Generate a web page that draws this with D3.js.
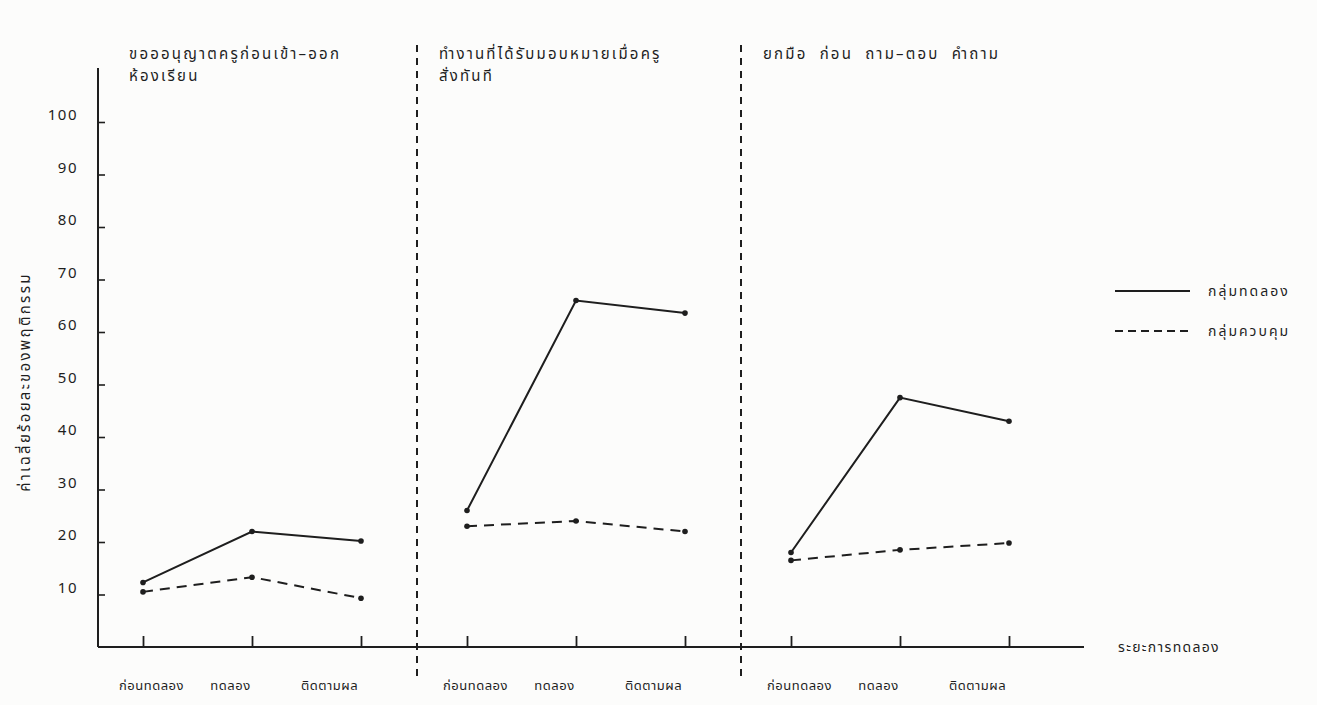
<!DOCTYPE html>
<html>
<head>
<meta charset="utf-8">
<script src="https://cdn.jsdelivr.net/npm/d3@7"></script>
<style>
  body { margin: 0; background: #fcfcfb; }
  svg text { font-family: "Noto Sans Thai", "Noto Sans", "DejaVu Sans", sans-serif; fill: #1e1e1e; }
</style>
</head>
<body>
<div id="chart"></div>
<script>
// chart data
var phases = ["ก่อนทดลอง", "ทดลอง", "ติดตามผล"];
var panelTitles = [
  ["ขอออนุญาตครูก่อนเข้า–ออก", "ห้องเรียน"],
  ["ทำงานที่ได้รับมอบหมายเมื่อครู", "สั่งทันที"],
  ["ยกมือ ก่อน ถาม–ตอบ คำถาม"]
];
var experimental = [
  [12.3, 22, 20.2],
  [26, 66, 63.6],
  [18, 47.5, 43]
];
var control = [
  [10.5, 13.3, 9.3],
  [23, 24, 22],
  [16.5, 18.5, 19.8]
];
var yTicks = [10, 20, 30, 40, 50, 60, 70, 80, 90, 100];
var seriesNames = ["กลุ่มทดลอง", "กลุ่มควบคุม"];
var yTitle = "ค่าเฉลี่ยร้อยละของพฤติกรรม";
var xTitle = "ระยะการทดลอง";

var svgWidth = 1317;
var svgHeight = 705;
var ink = "#1e1e1e";

var svg = d3.select("#chart")
  .append("svg")
  .attr("width", svgWidth)
  .attr("height", svgHeight);

// scales
var yScale = d3.scaleLinear().domain([0, 100]).range([647, 122]);
var panelX = d3.scaleBand().domain([0, 1, 2]).range([93, 1065]);
var phaseX = d3.scalePoint().domain(phases).range([50, 268]);

var axisX0 = 98;
var baseY = yScale(0);
// the typed tick labels sit a little off their ticks
var labelShift = [8, -22, -32];

// y axis
var yAxisG = svg.append("g")
  .attr("transform", `translate(${axisX0}, 0)`)
  .call(d3.axisLeft(yScale).tickValues(yTicks).tickSizeInner(-7).tickSizeOuter(0).tickPadding(20));
yAxisG.select(".domain").remove();
yAxisG.selectAll("line").attr("stroke", ink).attr("stroke-width", 1.6);
yAxisG.selectAll("text")
  .attr("font-size", 15)
  .attr("letter-spacing", 1.5)
  .attr("transform", "translate(0,-7)")
  .style("fill", ink);

svg.append("line")
  .attr("x1", axisX0).attr("x2", axisX0)
  .attr("y1", 68).attr("y2", baseY)
  .attr("stroke", ink).attr("stroke-width", 2);

// x axis line
svg.append("line")
  .attr("x1", axisX0).attr("x2", 1084)
  .attr("y1", baseY).attr("y2", baseY)
  .attr("stroke", ink).attr("stroke-width", 2);

// x ticks, one axis per panel
panelTitles.forEach(function(t, i) {
  var g = svg.append("g")
    .attr("transform", `translate(${panelX(i)}, ${baseY})`)
    .call(d3.axisBottom(phaseX).tickSizeInner(-11).tickSizeOuter(0).tickPadding(34));
  g.select(".domain").remove();
  g.selectAll("line").attr("stroke", ink).attr("stroke-width", 1.8);
  g.selectAll("text")
    .attr("font-size", 13)
    .attr("letter-spacing", 0.5)
    .attr("transform", function(d, k) { return `translate(${labelShift[k]},0)`; })
    .style("fill", ink);
});

// dashed separators between panels
[1, 2].forEach(function(i) {
  svg.append("line")
    .attr("x1", panelX(i)).attr("x2", panelX(i))
    .attr("y1", 45).attr("y2", 678)
    .attr("stroke", ink)
    .attr("stroke-width", 2)
    .attr("stroke-dasharray", "7,6");
});

// panel titles
panelTitles.forEach(function(lines, i) {
  lines.forEach(function(line, k) {
    svg.append("text")
      .attr("x", panelX(i) + (i === 0 ? 36 : 22))
      .attr("y", 59 + k * 22)
      .attr("font-size", 15)
      .attr("letter-spacing", 2.2)
      .attr("word-spacing", 6)
      .text(line);
  });
});

// series lines
var line = d3.line()
  .x(function(d, i) { return phaseX(phases[i]); })
  .y(function(d) { return yScale(d); });

function drawSeries(data, dash) {
  data.forEach(function(vals, i) {
    var g = svg.append("g").attr("transform", `translate(${panelX(i)}, 0)`);
    g.append("path")
      .datum(vals)
      .attr("d", line)
      .attr("fill", "none")
      .attr("stroke", ink)
      .attr("stroke-width", 2)
      .attr("stroke-dasharray", dash);
    g.selectAll("circle")
      .data(vals)
      .enter()
      .append("circle")
      .attr("cx", function(d, k) { return phaseX(phases[k]); })
      .attr("cy", function(d) { return yScale(d); })
      .attr("r", 2.8)
      .attr("fill", ink);
  });
}
drawSeries(experimental, null);
drawSeries(control, "10,7");

// legend
var legend = svg.append("g").attr("transform", "translate(1115, 291)");
seriesNames.forEach(function(name, i) {
  legend.append("line")
    .attr("x1", 0).attr("x2", 75)
    .attr("y1", i * 40).attr("y2", i * 40)
    .attr("stroke", ink)
    .attr("stroke-width", 1.8)
    .attr("stroke-dasharray", i === 0 ? null : "8,5");
  legend.append("text")
    .attr("x", 93)
    .attr("y", i * 40)
    .attr("dy", "0.35em")
    .attr("font-size", 14)
    .attr("letter-spacing", 2)
    .text(name);
});

// axis titles
svg.append("text")
  .attr("transform", `translate(30, 382) rotate(-90)`)
  .attr("text-anchor", "middle")
  .attr("font-size", 15)
  .attr("letter-spacing", 2.3)
  .text(yTitle);

svg.append("text")
  .attr("x", 1118)
  .attr("y", baseY)
  .attr("dy", "0.35em")
  .attr("font-size", 14)
  .attr("letter-spacing", 1.3)
  .text(xTitle);
</script>
</body>
</html>
